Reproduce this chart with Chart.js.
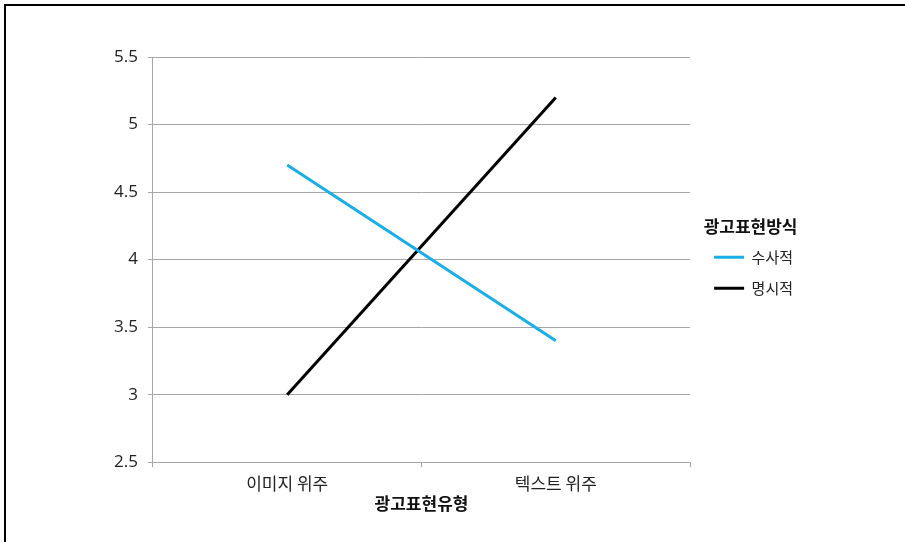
<!DOCTYPE html>
<html>
<head>
<meta charset="utf-8">
<script src="https://cdn.jsdelivr.net/npm/chart.js@4.4.1/dist/chart.umd.min.js"></script>
<style>
    html, body { margin: 0; padding: 0; background: #fff; }
    #frame {
        position: absolute; left: 4px; top: 4px; width: 901px; height: 538px;
        border-top: 2px solid #000; border-left: 2px solid #000;
    }
    #wrap { position: absolute; left: 0; top: 0; width: 905px; height: 542px; }
</style>
</head>
<body>
<div id="frame"></div>
<div id="wrap"><canvas id="lineChart"></canvas></div>
<script>
    const categories = ['이미지 위주', '텍스트 위주'];
    const rhetorical = [4.7, 3.4];   // 수사적
    const explicit = [3.0, 5.2];     // 명시적
    const seriesNames = ['수사적', '명시적'];
    const yTicks = { min: 2.5, max: 5.5, step: 0.5 };

    const kr = "'Noto Sans CJK KR', 'Noto Sans', sans-serif";
    const gridColor = '#a6a6a6';

    const lineCtx = document.getElementById('lineChart').getContext('2d');
    const lineChart = new Chart(lineCtx, {
        type: 'line',
        data: {
            labels: categories,
            datasets: [{
                label: seriesNames[0],
                data: rhetorical,
                borderColor: '#19aee8',
                backgroundColor: '#19aee8',
                borderWidth: 3,
                pointRadius: 0,
                fill: false,
                tension: 0
            }, {
                label: seriesNames[1],
                data: explicit,
                borderColor: '#000000',
                backgroundColor: '#000000',
                borderWidth: 3,
                pointRadius: 0,
                fill: false,
                tension: 0
            }]
        },
        options: {
            responsive: true,
            maintainAspectRatio: false,
            animation: false,
            layout: {
                padding: { left: 104, right: 102, top: 57, bottom: 28 }
            },
            scales: {
                x: {
                    offset: true,
                    grid: {
                        offset: true,
                        drawOnChartArea: false,
                        drawTicks: true,
                        tickLength: 5,
                        color: gridColor
                    },
                    border: { color: gridColor, width: 1 },
                    ticks: {
                        color: '#222',
                        padding: 6,
                        font: { family: kr, size: 17 }
                    },
                    title: {
                        display: true,
                        text: '광고표현유형',
                        color: '#111',
                        padding: { top: -6, bottom: 0 },
                        font: { family: kr, size: 17, weight: 'bold' }
                    }
                },
                y: {
                    min: yTicks.min,
                    max: yTicks.max,
                    grid: {
                        color: gridColor,
                        tickLength: 5
                    },
                    border: { color: gridColor, width: 1 },
                    ticks: {
                        stepSize: yTicks.step,
                        color: '#222',
                        padding: 10,
                        font: { family: "'Open Sans', 'Noto Sans', sans-serif", size: 17 },
                        callback: function (value) {
                            return String(value);
                        }
                    }
                },
                // empty right-hand axis, only keeps a gap before the legend
                gap: {
                    position: 'right',
                    display: true,
                    grid: { display: false },
                    border: { display: false },
                    ticks: { display: false },
                    afterFit: function (scale) {
                        scale.width = 8;
                    }
                }
            },
            plugins: {
                legend: {
                    position: 'right',
                    align: 'center',
                    fullSize: false,
                    title: {
                        display: true,
                        text: '광고표현방식',
                        color: '#111',
                        padding: { top: 11, bottom: -5 },
                        font: { family: kr, size: 17, weight: 'bold' }
                    },
                    labels: {
                        usePointStyle: true,
                        pointStyle: 'line',
                        pointStyleWidth: 30,
                        color: '#222',
                        padding: 16,
                        font: { family: kr, size: 15 }
                    }
                },
                tooltip: { enabled: false }
            }
        }
    });
</script>
</body>
</html>
